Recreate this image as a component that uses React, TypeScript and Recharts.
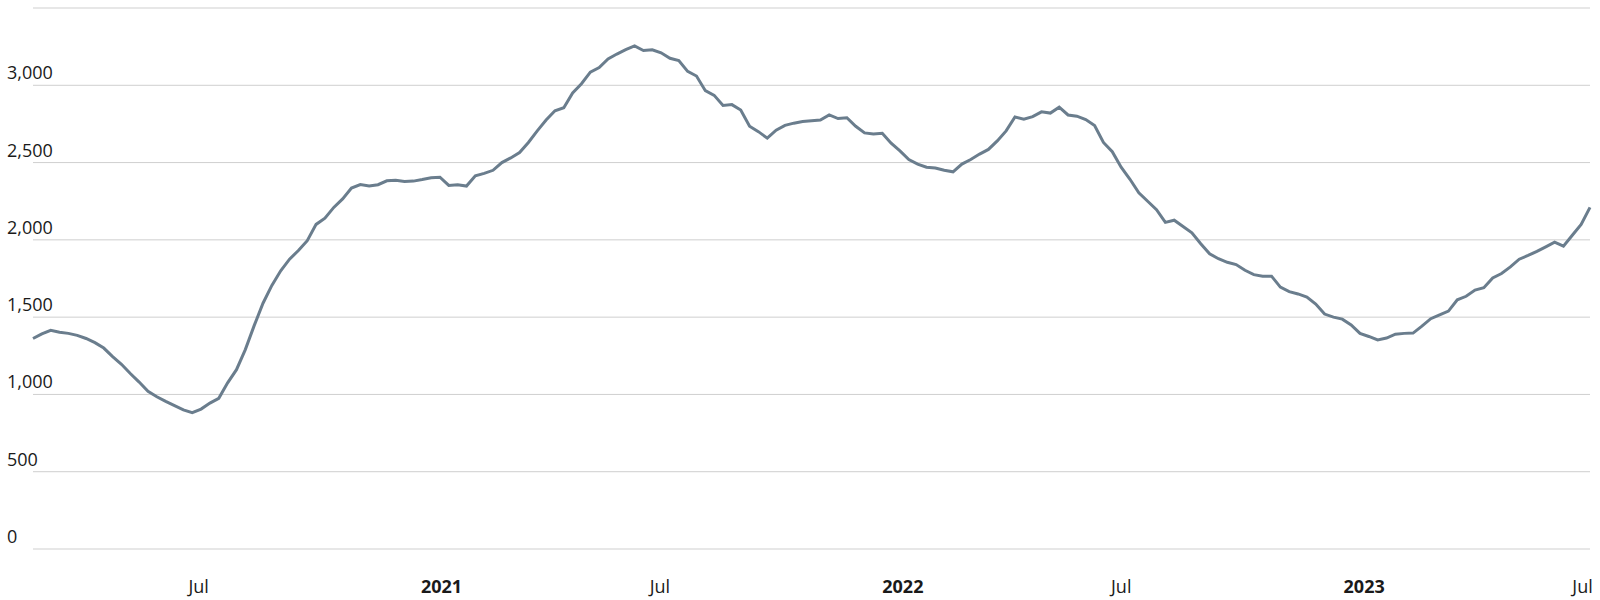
import React from 'react';
import { LineChart, Line, XAxis, YAxis, CartesianGrid } from 'recharts';

// weekly series, first week starting 2020-02-29
const START_DATE = '2020-02-29';
const STEP_DAYS = 7;

const WEEKLY_VALUES = [
  1362, 1392, 1415, 1402, 1395, 1382, 1362, 1335, 1300, 1245,
  1195, 1135, 1080, 1020, 985, 955, 928, 900, 882, 905,
  944, 975, 1075, 1160, 1290, 1445, 1590, 1705, 1800, 1875,
  1931, 1995, 2100, 2140, 2210, 2265, 2335, 2358, 2348, 2357,
  2382, 2385, 2378, 2380, 2390, 2402, 2405, 2352, 2356, 2348,
  2415, 2430, 2450, 2500, 2530, 2565, 2630, 2705, 2775, 2835,
  2855, 2950, 3010, 3085, 3115, 3170, 3202, 3230, 3255, 3225,
  3230, 3210, 3175, 3160, 3090, 3060, 2965, 2935, 2870, 2875,
  2840, 2735, 2700, 2658, 2710, 2741, 2755, 2765, 2770, 2775,
  2808, 2785, 2790, 2735, 2692, 2685, 2690, 2625, 2575, 2520,
  2490, 2470, 2465, 2450, 2440, 2490, 2520, 2555, 2585, 2640,
  2705, 2795, 2780, 2797, 2828, 2820, 2858, 2808, 2800, 2778,
  2740, 2630, 2570, 2470, 2392, 2305, 2250, 2195, 2113, 2127,
  2086, 2045, 1975, 1910, 1878, 1855, 1840, 1803, 1775, 1765,
  1765, 1694, 1665, 1650, 1630, 1585, 1520, 1500, 1487, 1450,
  1395, 1375, 1353, 1365, 1390, 1395, 1397, 1442, 1490, 1515,
  1539, 1612, 1635, 1675, 1690, 1753, 1782, 1825, 1875, 1899,
  1925, 1955, 1985, 1959, 2030, 2100, 2210,
];

const X_TICK_DATES = ['2020-07-01', '2021-01-01', '2021-07-01', '2022-01-01', '2022-07-01', '2023-01-01', '2023-07-01'];
const X_TICK_LABELS = ['Jul', '2021', 'Jul', '2022', 'Jul', '2023', 'Jul'];
const Y_TICKS = [0, 500, 1000, 1500, 2000, 2500, 3000, 3500];

const DAY = 86400000;
const t0 = Date.parse(START_DATE);
const data = WEEKLY_VALUES.map((v, i) => ({ t: t0 + i * STEP_DAYS * DAY, value: v }));
const xTicks = X_TICK_DATES.map(d => Date.parse(d));

const FONT = '"Open Sans", sans-serif';

const XTick = (props: any) => {
  const { x, payload } = props;
  const idx = xTicks.indexOf(payload.value);
  const label = X_TICK_LABELS[idx] ?? '';
  const isYear = /^\d{4}$/.test(label);
  return (
    <text x={x} y={593} textAnchor="start" fontFamily={FONT} fontSize={18}
      fontWeight={isYear ? 700 : 400} fill="#1a1a1a">
      {label}
    </text>
  );
};

const YTick = (props: any) => {
  const { y, payload } = props;
  if (payload.value === 3500) return null;
  return (
    <text x={7} y={y - 6} textAnchor="start" fontFamily={FONT} fontSize={18} fill="#1a1a1a">
      {payload.value.toLocaleString('en-US')}
    </text>
  );
};

export default function App() {
  return (
    <div style={{ position: 'absolute', left: 0, top: 0, width: 1600, height: 600, background: '#fff' }}>
      <LineChart width={1600} height={600} data={data} margin={{ top: 8, right: 10, bottom: 0, left: 0 }}>
        <CartesianGrid horizontal vertical={false} stroke="#cfcfcf" strokeWidth={1} />
        <XAxis
          dataKey="t"
          type="number"
          scale="linear"
          domain={[data[0].t, data[data.length - 1].t]}
          ticks={xTicks}
          tick={<XTick />}
          axisLine={false}
          tickLine={false}
          height={51}
          interval={0}
        />
        <YAxis
          type="number"
          domain={[0, 3500]}
          ticks={Y_TICKS}
          tick={<YTick />}
          axisLine={false}
          tickLine={false}
          width={33}
          interval={0}
        />
        <Line
          type="linear"
          dataKey="value"
          stroke="#6a7d8d"
          strokeWidth={3}
          dot={false}
          isAnimationActive={false}
        />
      </LineChart>
    </div>
  );
}
